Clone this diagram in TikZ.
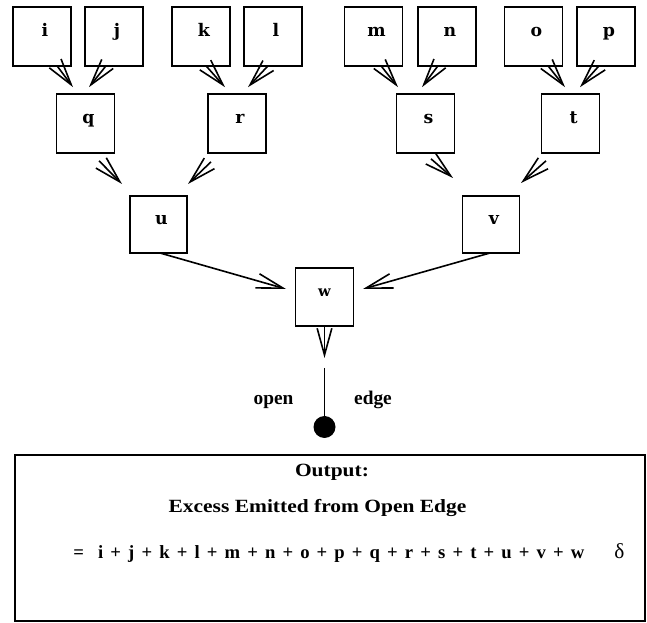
\documentclass[tikz,border=0pt]{standalone}
\usepackage{fontspec}
\usepackage{graphicx}
\newfontfamily\lib{Liberation Serif}
\newfontfamily\dvs{DejaVu Serif}
\usetikzlibrary{arrows.meta,calc}
\tikzset{
  box/.style={draw, line width=1.15pt, minimum width=43.5pt, minimum height=44pt, inner sep=0pt, outer sep=0pt,
    text height=0pt, text depth=0pt, font=\dvs\bfseries\fontsize{13}{15}\selectfont},
  arr/.style={line width=1.2pt, -{Straight Barb[length=20pt,width=11pt]}},
  lbl/.style={anchor=base, inner sep=0pt, font=\lib\bfseries\fontsize{14.5}{17}\selectfont},
  ttl/.style={anchor=base, inner sep=0pt, font=\lib\bfseries\fontsize{14}{16}\selectfont},
}
\newcommand{\bx}[1]{\hspace{4.5pt}#1}
\begin{document}
\begin{tikzpicture}[x=0.75pt,y=-0.75pt]
\useasboundingbox (0,0) rectangle (647,623);
% top row
\node[box] (i) at (42,36.5) {\bx{i}};
\node[box] (j) at (114,36.5) {\bx{j}};
\node[box] (k) at (201,36.5) {\bx{k}};
\node[box] (l) at (273,36.5) {\bx{l}};
\node[box] (m) at (373.5,36.5) {\bx{m}};
\node[box] (n) at (447,36.5) {\bx{n}};
\node[box] (o) at (533.5,36.5) {\bx{o}};
\node[box] (p) at (606,36.5) {\bx{p}};
% second row
\node[box] (q) at (85.5,123.5) {\bx{q}};
\node[box] (r) at (237,123.5) {\bx{r}};
\node[box] (s) at (425.5,123.5) {\bx{s}};
\node[box] (t) at (570.5,123.5) {\bx{t}};
% third row
\node[box, minimum width=42.75pt, minimum height=42.75pt] (u) at (158.5,224.5) {\bx{u}};
\node[box, minimum width=42.75pt, minimum height=42.75pt] (v) at (491,224.5) {\bx{v}};
% w
\node[box, minimum width=43.5pt, minimum height=43.5pt, font=\dvs\bfseries\fontsize{11}{13}\selectfont] (w) at (324.5,297) {w};
% arrows level 1 -> 2
\draw[arr] ($(i.south)+(15,0)$) -- ($(q.north)+(-12.5,-7)$);
\draw[arr] ($(j.south)+(-8,0)$) -- ($(q.north)+(3.5,-7)$);
\draw[arr] ($(k.south)+(5,0)$) -- ($(r.north)+(-12,-7)$);
\draw[arr] ($(l.south)+(-5,0)$) -- ($(r.north)+(11,-7)$);
\draw[arr] ($(m.south)+(7.5,0)$) -- ($(s.north)+(-27.5,-7)$);
\draw[arr] ($(n.south)+(-9,0)$) -- ($(s.north)+(-3.5,-7)$);
\draw[arr] ($(o.south)+(14.5,0)$) -- ($(t.north)+(-5.5,-7)$);
\draw[arr] ($(p.south)+(-7,0)$) -- ($(t.north)+(9.5,-7)$);
% arrows level 2 -> 3
\draw[arr] ($(q.south)+(13.5,8)$) -- ($(u.north)+(-36.5,-12)$);
\draw[arr] ($(r.south)+(-26,9)$) -- ($(u.north)+(29.5,-12)$);
\draw[arr] ($(s.south)+(5.5,6)$) -- ($(v.north)+(-38,-18)$);
\draw[arr] ($(t.south)+(-24.5,8)$) -- ($(v.north)+(30,-13)$);
% arrows level 3 -> w
\draw[arr] ($(u.south)+(1.5,0)$) -- ($(w.west)+(-9.5,-8)$);
\draw[arr] ($(v.south)+(-1,0)$) -- ($(w.east)+(9.5,-8)$);
% open edge
\coordinate (wtip) at (324.5,358);
\coordinate (etop) at (324.5,368);
\draw[arr] (w.south) -- (wtip);
\node[circle, fill=black, minimum size=16.5pt, inner sep=0pt, outer sep=0pt] (dot) at (324.5,427) {};
\draw[line width=1.1pt] (etop) -- (dot.north);
\node[lbl] (open) at (273.5,405) {open};
\node[lbl] (edge) at (373,405) {edge};
% output box
\node[draw, line width=1.15pt, minimum width=472.5pt, minimum height=124.5pt, inner sep=0pt] (out) at (330,538) {};
\node[ttl] (t1) at (332,477) {\scalebox{1.15}[1]{Output:}};
\node[ttl] (t2) at (317.5,513) {\scalebox{1.15}[1]{Excess Emitted from Open Edge}};
\node[anchor=base west, inner sep=0pt, font=\lib\bfseries\fontsize{14}{16}\selectfont] (eq) at (73,559)
  {\makebox[383.25pt][l]{=\hfill\hfill i\hfill+\hfill j\hfill+\hfill k\hfill+\hfill l\hfill+\hfill m\hfill+\hfill n\hfill+\hfill o\hfill+\hfill p\hfill+\hfill q\hfill+\hfill r\hfill+\hfill s\hfill+\hfill t\hfill+\hfill u\hfill+\hfill v\hfill+\hfill w}};
\node[anchor=base west, inner sep=0pt, font=\lib\fontsize{16}{18}\selectfont] (delta) at (614,559) {δ};
\end{tikzpicture}
\end{document}
